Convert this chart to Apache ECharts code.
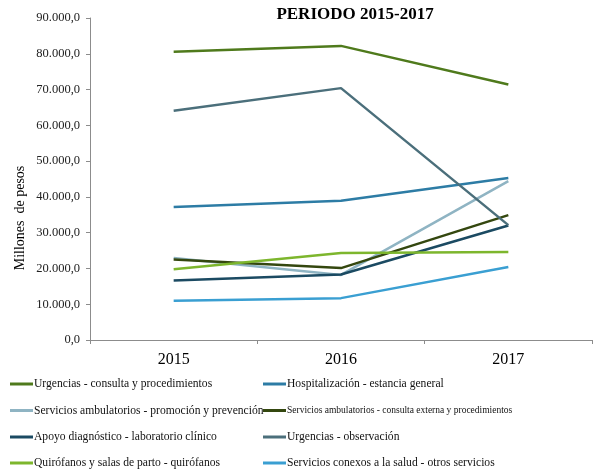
<!DOCTYPE html>
<html>
<head>
<meta charset="utf-8">
<script src="https://cdn.jsdelivr.net/npm/echarts@6/dist/echarts.min.js"></script>
<style>
html,body{margin:0;padding:0;background:#fff;}
#chart{width:608px;height:473px;}
</style>
</head>
<body>
<div id="chart"></div>
<script>
// Years on the category axis
const years = ['2015', '2016', '2017'];

// Series names (legend order: left column, right column, row by row)
const seriesNames = [
  'Urgencias - consulta y procedimientos',
  'Hospitalización - estancia general',
  'Servicios ambulatorios - promoción y prevención',
  'Servicios ambulatorios - consulta externa y procedimientos',
  'Apoyo diagnóstico - laboratorio clínico',
  'Urgencias - observación',
  'Quirófanos y salas de parto - quirófanos',
  'Servicios conexos a la salud - otros servicios'
];

// Values in millions of pesos, per year
const urgenciasConsulta   = [80600, 82200, 71400];
const hospitalizacion     = [37200, 38900, 45300];
const ambPromocion        = [22900, 18200, 44400];
const ambConsultaExterna  = [22500, 20100, 34900];
const apoyoDiagnostico    = [16600, 18300, 32000];
const urgenciasObserv     = [64100, 70400, 32100];
const quirofanos          = [19800, 24300, 24600];
const serviciosConexos    = [11000, 11700, 20400];

const seriesValues = [
  urgenciasConsulta, hospitalizacion, ambPromocion, ambConsultaExterna,
  apoyoDiagnostico, urgenciasObserv, quirofanos, serviciosConexos
];

const colors = ['#4f7a1c', '#2d7ca5', '#8fb4c3', '#34470f',
                '#1b4a62', '#4b6f7b', '#7db62d', '#3a9fd2'];

// Y-axis tick labels (es-CO format)
const yTicks = [0, 10000, 20000, 30000, 40000, 50000, 60000, 70000, 80000, 90000];
function fmt(v) {
  const s = Math.round(v).toString().replace(/\B(?=(\d{3})+(?!\d))/g, '.');
  return s + ',0';
}

const serif = '"Liberation Serif", "DejaVu Serif", serif';

const chart = echarts.init(document.getElementById('chart'));

// One legend block per entry: two columns, four rows
const legendRows = [384, 410.5, 437, 463];
const legendCols = [10, 263];
const legends = seriesNames.map(function (name, i) {
  const col = i % 2, row = Math.floor(i / 2);
  const small = (i === 3);
  return {
    left: legendCols[col],
    top: legendRows[row] - 8,
    itemWidth: 23, itemHeight: 3, icon: 'rect',
    itemGap: 0,
    padding: 0,
    height: 16,
    textStyle: {
      fontFamily: serif, fontSize: small ? 9.5 : 11.6, color: '#111',
      padding: [0, 0, 0, -4], lineHeight: 16
    },
    data: [{ name: name }]
  };
});

chart.setOption({
  animation: false,
  color: colors,
  title: {
    text: 'PERIODO 2015-2017',
    left: 350, top: 1, textAlign: 'center',
    textStyle: { fontFamily: serif, fontSize: 17, fontWeight: 'bold', color: '#000' }
  },
  grid: { left: 90, right: 16, top: 18, bottom: 133 },
  legend: legends,
  graphic: [{
    type: 'text',
    x: 20, y: 218,
    rotation: Math.PI / 2,
    style: {
      text: 'Millones  de pesos',
      font: '14px ' + serif,
      fill: '#000',
      align: 'center',
      verticalAlign: 'middle'
    }
  }],
  xAxis: {
    type: 'category',
    data: years,
    boundaryGap: true,
    axisLine: { lineStyle: { color: '#8c8c8c', width: 1 } },
    axisTick: { show: true, length: 4, inside: false, lineStyle: { color: '#8c8c8c' } },
    axisLabel: { fontFamily: serif, fontSize: 16, color: '#000', margin: 12 }
  },
  yAxis: {
    type: 'value',
    min: 0, max: 90000, interval: 10000,
    axisLine: { show: true, lineStyle: { color: '#8c8c8c', width: 1 } },
    axisTick: { show: true, length: 4, lineStyle: { color: '#8c8c8c' } },
    splitLine: { show: false },
    axisLabel: {
      fontFamily: serif, fontSize: 12.5, color: '#222', margin: 10,
      formatter: function (v) { return yTicks.indexOf(v) >= 0 ? fmt(v) : ''; }
    }
  },
  series: seriesValues.map(function (vals, i) {
    return {
      name: seriesNames[i],
      type: 'line',
      data: vals,
      symbol: 'none',
      lineStyle: { width: 2.5, color: colors[i] },
      itemStyle: { color: colors[i] }
    };
  })
});
</script>
</body>
</html>
